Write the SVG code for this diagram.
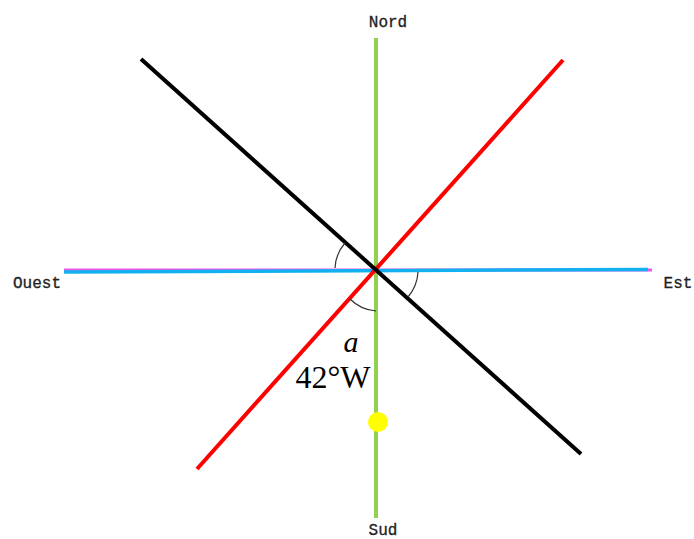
<svg xmlns="http://www.w3.org/2000/svg" width="694" height="539" viewBox="0 0 694 539">
<style>
.lbl{font-family:"Liberation Mono","DejaVu Sans Mono",monospace;font-size:16px;fill:#222;stroke:#222;stroke-width:0.3}
.arc{fill:none;stroke:#333;stroke-width:1.2}
.math{font-family:"Liberation Serif","DejaVu Serif",serif;fill:#000}
</style>
<rect width="694" height="539" fill="#fff"/>
<g id="connectors">
<line id="magenta" x1="64" y1="270" x2="652" y2="270" stroke="#ee55ee" stroke-width="3"/>
<line id="ouest-est" x1="64" y1="272" x2="648" y2="269.5" stroke="#11b0ee" stroke-width="3.5"/>
<line id="nord-sud" x1="376" y1="38" x2="376" y2="518" stroke="#92d050" stroke-width="4"/>
<line id="red" x1="563" y1="60" x2="197" y2="469" stroke="#ff0000" stroke-width="4"/>
<line id="black" x1="141" y1="59" x2="581" y2="454" stroke="#000" stroke-width="4"/>
</g>
<g id="arcs">
<path class="arc" d="M335 268 A41 41 0 0 1 345 243"/>
<path class="arc" d="M418 272 A42 42 0 0 1 408 297"/>
<path class="arc" d="M350 299 A41 41 0 0 0 376 311"/>
</g>
<g id="nord"><text class="lbl" x="388" y="27" text-anchor="middle">Nord</text></g>
<g id="sud"><text class="lbl" x="383" y="535" text-anchor="middle">Sud</text></g>
<g id="ouest"><text class="lbl" x="37" y="288" text-anchor="middle">Ouest</text></g>
<g id="est"><text class="lbl" x="678" y="288" text-anchor="middle">Est</text></g>
<g id="angle-label">
<text class="math" x="351" y="352" font-size="30" font-style="italic" text-anchor="middle">a</text>
<text class="math" x="333" y="388" font-size="32" text-anchor="middle">42°W</text>
</g>
<g id="sun"><circle cx="378" cy="422" r="10" fill="#ffff00"/></g>
</svg>
